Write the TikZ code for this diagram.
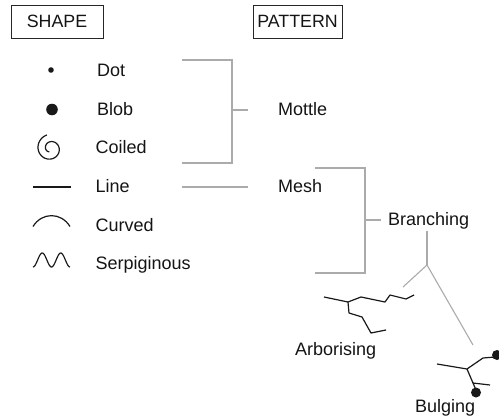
\documentclass[tikz,border=0pt]{standalone}
\usepackage{fontspec}
\setmainfont{Liberation Sans}
\begin{document}
\begin{tikzpicture}[x=1pt,y=-1pt,
  lbl/.style={font=\fontsize{18}{20}\selectfont, inner sep=0pt, anchor=base west, text=black!92},
  headbox/.style={draw=black!85, line width=0.9pt, font=\fontsize{17.8}{20}\selectfont,
    text=black!92, inner sep=0pt, minimum height=33pt},
  conn/.style={draw=black!33, line width=1.1pt},
  glyph/.style={draw=black!90, line width=1.2pt},
  twig/.style={draw=black!90, line width=1.2pt, line join=round},
  bulb/.style={fill=black!90}
]
\useasboundingbox (0,0) rectangle (499,418);

% column headings
\node[headbox, minimum width=92pt] (shape) at (57,21.5) {SHAPE};
\node[headbox, minimum width=89pt] (pattern) at (297.5,21.5) {PATTERN};

% shape labels
\node[lbl] (dot)  at (97,76.5)  {Dot};
\node[lbl] (blob) at (97,115.5) {Blob};
\node[lbl] (coil) at (95.5,153.5) {Coiled};
\node[lbl] (line) at (95.5,192.5) {Line};
\node[lbl] (curv) at (95.5,231) {Curved};
\node[lbl] (serp) at (95.5,269.5) {Serpiginous};

% shape glyphs
\fill[black!90] (51,70) circle (2.8);
\fill[black!90] (52,109.5) circle (5.8);
\draw[glyph] plot[smooth, domain=105:610, samples=120]
  ({50.5+(14-(\x-105)/505*10.5)*cos(\x)}, {148.5-(14-(\x-105)/505*10.5)*sin(\x)});
\draw[glyph] (33,187) -- (71,187);
\draw[glyph] (33,226.5) .. controls (42,212) and (61,212) .. (70,226.5);
\draw[glyph] plot[smooth, domain=0:37, samples=60]
  ({33+\x}, {260+7*cos(\x/18.5*360)});

% pattern labels
\node[lbl] (mottle) at (278,115.5) {Mottle};
\node[lbl] (mesh)   at (278,192.5) {Mesh};
\node[lbl] (branch) at (388,225.5) {Branching};
\node[lbl] (arbor)  at (295,355)   {Arborising};
\node[lbl] (bulge)  at (415,412)   {Bulging};

% mottle bracket
\coordinate (mA) at (182,60);
\coordinate (mB) at (232,60);
\coordinate (mC) at (232,163);
\coordinate (mD) at (182,163);
\coordinate (mM) at (232,110);
\coordinate (mT) at (248,110);
\draw[conn] (mA) -- (mB) -- (mC) -- (mD);
\draw[conn] (mM) -- (mT);

% line to mesh
\coordinate (lA) at (182,187);
\coordinate (lB) at (248,187);
\draw[conn] (lA) -- (lB);

% mesh bracket
\coordinate (bA) at (315,168);
\coordinate (bB) at (365,168);
\coordinate (bC) at (365,273);
\coordinate (bD) at (315,273);
\coordinate (bM) at (365,220);
\coordinate (bT) at (381,220);
\draw[conn] (bA) -- (bB) -- (bC) -- (bD);
\draw[conn] (bM) -- (bT);

% branching fork
\coordinate (fTop) at (427,231);
\coordinate (fJ) at (427,265);
\coordinate (fL) at (403,287);
\coordinate (fR) at (473,345);
\draw[conn] (fTop) -- (fJ);
\draw[conn] (fJ) -- (fL);
\draw[conn] (fJ) -- (fR);

% arborising twig
\draw[twig] (324,297) -- (348,302) -- (361,297) -- (385,302) -- (390,295) -- (406,299) -- (414,295);
\draw[twig] (348,302) -- (349,313) -- (362,317) -- (371,333) -- (386,330);

% bulging twig
\draw[twig] (437,364) -- (467,369) -- (483,358) -- (495,357);
\draw[twig] (467,369) -- (476,390);
\draw[twig] (473,383) -- (490,385);
\fill[bulb] (497,355) circle (5);
\fill[bulb] (476,392.5) circle (5);
\end{tikzpicture}
\end{document}
